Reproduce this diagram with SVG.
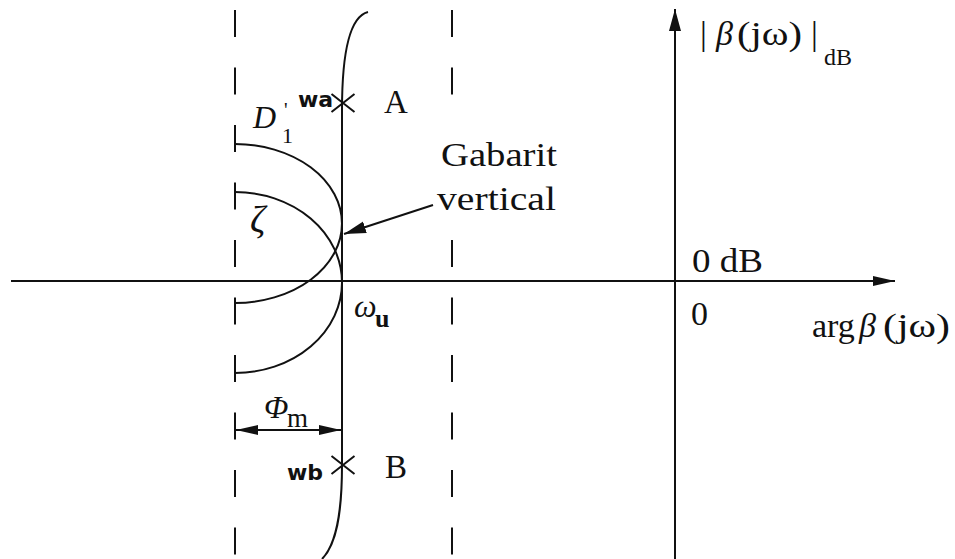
<svg xmlns="http://www.w3.org/2000/svg" width="955" height="559" viewBox="0 0 955 559">
<style>
  .ln{fill:none;stroke:#111;stroke-width:2}
  .dash{fill:none;stroke:#111;stroke-width:2;stroke-dasharray:27 30.5}
  .serif{font-family:"Liberation Serif","Times New Roman",serif;fill:#111}
  .it{font-style:italic}
  .bsans{font-family:"DejaVu Sans",sans-serif;font-weight:bold;fill:#111}
</style>
<defs>
  <marker id="ah" markerUnits="userSpaceOnUse" markerWidth="24" markerHeight="14" refX="22" refY="7" orient="auto-start-reverse" viewBox="0 0 24 14">
    <path d="M0,1 L22,7 L0,13 z" fill="#111"/>
  </marker>
  <marker id="ahs" markerUnits="userSpaceOnUse" markerWidth="24" markerHeight="12" refX="22" refY="6" orient="auto-start-reverse" viewBox="0 0 24 12">
    <path d="M0,1 L22,6 L0,11 z" fill="#111"/>
  </marker>
</defs>
<rect width="955" height="559" fill="#fff"/>

<g id="guides">
  <line class="dash" x1="235" y1="10" x2="235" y2="559"/>
  <line class="dash" x1="452" y1="10" x2="452" y2="100"/>
  <line class="dash" x1="452" y1="240" x2="452" y2="559"/>
</g>

<g id="curves">
  <path id="gabarit" class="ln" d="M368,12 C352,16 342,45 342,110 L342,465 C342,515 336,545 322,559"/>
  <path id="arc-D1" class="ln" d="M235,144 A107,79.5 0 0 1 235,303"/>
  <path id="arc-zeta" class="ln" d="M235,192 A107,90.5 0 0 1 235,373"/>
</g>

<g id="connectors">
  <line id="x-axis" class="ln" x1="11" y1="281" x2="895" y2="281" marker-end="url(#ahs)"/>
  <line id="y-axis" class="ln" x1="675" y1="559" x2="675" y2="9" marker-end="url(#ah)"/>
  <line id="gabarit-arrow" class="ln" x1="433" y1="205" x2="344" y2="234" marker-end="url(#ah)"/>
  <line id="phi-m-dim" class="ln" x1="236" y1="430" x2="341" y2="430" marker-start="url(#ahs)" marker-end="url(#ahs)"/>
</g>

<g id="point-A">
  <path class="ln" d="M331.5,94 L354.5,112 M331.5,112 L354.5,94"/>
  <text class="bsans" x="298" y="107" font-size="22">wa</text>
  <text class="serif" x="384" y="113" font-size="33">A</text>
</g>

<g id="point-B">
  <path class="ln" d="M331.5,456 L354.5,474 M331.5,474 L354.5,456"/>
  <text class="bsans" x="287" y="480" font-size="22">wb</text>
  <text class="serif" x="385" y="478" font-size="33">B</text>
</g>

<g id="label-D1">
  <text class="serif" font-size="32"><tspan class="it" x="253" y="128">D</tspan><tspan x="284" y="117" font-size="20">'</tspan><tspan x="282" y="143" font-size="22">1</tspan></text>
</g>

<g id="label-zeta">
  <text class="serif it" x="250" y="232" font-size="38">ζ</text>
</g>

<g id="label-omega-u">
  <text class="serif it" x="354" y="317" font-size="32">ω</text>
  <text class="serif" x="375" y="327" font-size="26" font-weight="bold">u</text>
</g>

<g id="label-phi-m">
  <text class="serif it" x="264" y="418" font-size="32">Φ</text>
  <text class="serif" x="287" y="427" font-size="27">m</text>
</g>

<g id="label-gabarit">
  <text class="serif" x="441" y="166" font-size="34" textLength="116" lengthAdjust="spacingAndGlyphs">Gabarit</text>
  <text class="serif" x="437" y="210" font-size="34" textLength="119" lengthAdjust="spacingAndGlyphs">vertical</text>
</g>

<g id="label-y-axis">
  <text class="serif" x="700" y="45" font-size="34">|</text>
  <text class="serif it" x="716" y="45" font-size="34">β</text>
  <text class="serif" x="737" y="45" font-size="34" textLength="65" lengthAdjust="spacingAndGlyphs">(jω)</text>
  <text class="serif" x="811" y="45" font-size="34">|</text>
  <text class="serif" x="824" y="65" font-size="24">dB</text>
</g>

<g id="label-x-axis">
  <text class="serif" x="692" y="272" font-size="34" textLength="71" lengthAdjust="spacingAndGlyphs">0 dB</text>
  <text class="serif" x="691" y="325" font-size="34">0</text>
  <text class="serif" x="812" y="337" font-size="34">arg</text>
  <text class="serif it" x="859" y="337" font-size="34">β</text>
  <text class="serif" x="883" y="337" font-size="34" textLength="67" lengthAdjust="spacingAndGlyphs">(jω)</text>
</g>
</svg>
